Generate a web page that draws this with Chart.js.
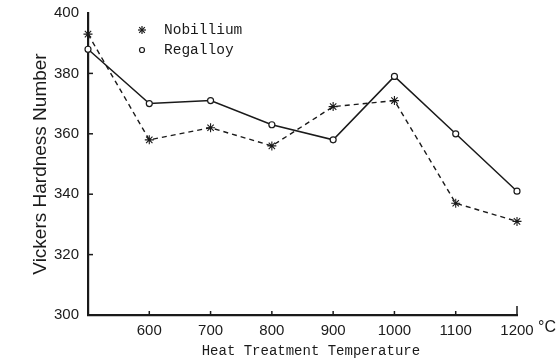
<!DOCTYPE html>
<html>
<head>
<meta charset="utf-8">
<script src="https://cdn.jsdelivr.net/npm/chart.js@4.4.1/dist/chart.umd.min.js"></script>
<style>
  html, body { margin: 0; padding: 0; background: #fff; }
  #wrap { width: 560px; height: 363px; }
</style>
</head>
<body>
<div id="wrap"><canvas id="chart"></canvas></div>
<script>
const temps = [500, 600, 700, 800, 900, 1000, 1100, 1200];
const nobillium = [393, 358, 362, 356, 369, 371, 337, 331];
const regalloy = [388, 370, 371, 363, 358, 379, 360, 341];
const xTicks = [600, 700, 800, 900, 1000, 1100, 1200];
const yTicks = [300, 320, 340, 360, 380, 400];

const ink = "#1a1a1a";

// inward tick marks, legend in the plot and the unit label
const extras = {
  id: "extras",
  afterDraw(chart){
    const ctx = chart.ctx;
    const xs = chart.scales.x, ys = chart.scales.y;
    ctx.save();
    ctx.strokeStyle = ink;
    ctx.lineWidth = 1.5;
    yTicks.forEach(v => {
      if(v == 300 || v == 400) return;
      const py = ys.getPixelForValue(v);
      ctx.beginPath();
      ctx.moveTo(xs.left, py);
      ctx.lineTo(xs.left + 5, py);
      ctx.stroke();
    });
    xTicks.forEach(v => {
      const px = xs.getPixelForValue(v);
      const len = v == 1200 ? 9 : 4;
      ctx.beginPath();
      ctx.moveTo(px, ys.bottom);
      ctx.lineTo(px, ys.bottom - len);
      ctx.stroke();
    });

    ctx.fillStyle = ink;
    ctx.font = "16px 'Liberation Sans'";
    ctx.textBaseline = "middle";
    ctx.textAlign = "left";
    ctx.fillText("°C", xs.right + 21, ys.bottom + 13);

    // legend
    ctx.font = "14.5px 'Liberation Mono'";
    chart.data.datasets.forEach((ds, i) => {
      const px = xs.left + 54;
      const py = ys.top + 17 + i * 20;
      ctx.lineWidth = 1.2;
      if(ds.pointStyle == "star"){
        for(let k = 0; k < 4; k++){
          const a = k * Math.PI / 4 + Math.PI / 2;
          ctx.beginPath();
          ctx.moveTo(px - 4 * Math.cos(a), py - 4 * Math.sin(a));
          ctx.lineTo(px + 4 * Math.cos(a), py + 4 * Math.sin(a));
          ctx.stroke();
        }
      }else{
        ctx.beginPath();
        ctx.arc(px, py, 2.5, 0, Math.PI * 2);
        ctx.stroke();
      }
      ctx.fillText(ds.label, px + 22, py);
    });
    ctx.restore();
  }
};

new Chart(document.getElementById("chart"), {
  type: "line",
  data: {
    datasets: [
      {
        label: "Nobillium",
        data: temps.map((t, i) => ({x: t, y: nobillium[i]})),
        borderColor: ink,
        borderWidth: 1.4,
        borderDash: [5, 4],
        pointStyle: "star",
        pointRadius: 4.5,
        pointBorderWidth: 1.1,
        pointBorderColor: ink,
        pointBackgroundColor: "#fff",
        tension: 0,
        clip: false
      },
      {
        label: "Regalloy",
        data: temps.map((t, i) => ({x: t, y: regalloy[i]})),
        borderColor: ink,
        borderWidth: 1.5,
        pointStyle: "circle",
        pointRadius: 3,
        pointBorderWidth: 1.2,
        pointBorderColor: ink,
        pointBackgroundColor: "#fff",
        tension: 0,
        clip: false
      }
    ]
  },
  options: {
    responsive: true,
    maintainAspectRatio: false,
    animation: false,
    layout: { padding: { top: 13, right: 43, left: 0, bottom: 0 } },
    plugins: { legend: { display: false }, tooltip: { enabled: false } },
    scales: {
      x: {
        type: "linear",
        min: 500,
        max: 1200,
        afterFit: s => { s.height = 48; s.paddingLeft = 0; s.paddingRight = 0; },
        afterBuildTicks: s => { s.ticks = xTicks.map(v => ({value: v})); },
        grid: { drawOnChartArea: false, drawTicks: false },
        border: { color: ink, width: 2.2 },
        ticks: {
          padding: 7,
          color: ink,
          font: { family: "'Liberation Sans'", size: 15 },
          callback: v => String(v)
        },
        title: {
          display: true,
          text: "  Heat Treatment Temperature",
          color: ink,
          font: { family: "'Liberation Mono'", size: 14 },
          padding: { top: 0, bottom: 3 }
        }
      },
      y: {
        min: 300,
        max: 400,
        afterFit: s => { s.width = 88; s.paddingTop = 0; s.paddingBottom = 0; },
        afterBuildTicks: s => { s.ticks = yTicks.map(v => ({value: v})); },
        grid: { drawOnChartArea: false, drawTicks: false },
        border: { color: ink, width: 2.2 },
        ticks: {
          padding: 9,
          color: ink,
          font: { family: "'Liberation Sans'", size: 15 },
          callback: v => String(v)
        },
        title: {
          display: true,
          text: "Vickers Hardness Number",
          color: ink,
          font: { family: "'Liberation Sans'", size: 19 },
          padding: { top: 29, bottom: 0 }
        }
      }
    }
  },
  plugins: [extras]
});
</script>
</body>
</html>
